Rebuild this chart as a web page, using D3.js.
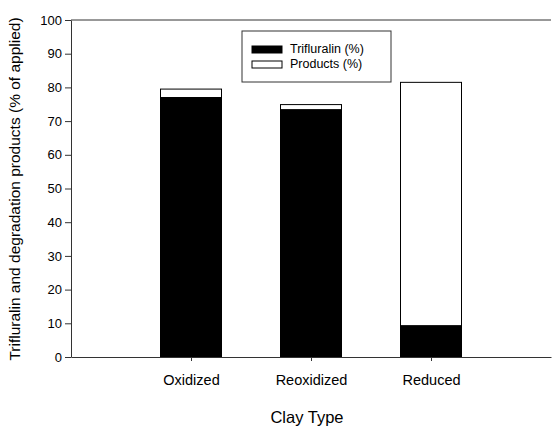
<!DOCTYPE html>
<html>
<head>
<script src="https://d3js.org/d3.v7.min.js"></script>
<style>
  body { margin: 0; background: #fff; }
  text { font-family: Arial, "Liberation Sans", sans-serif; }
</style>
</head>
<body>
<svg width="552" height="429"></svg>
<script>
// data
var clayTypes = ["Oxidized", "Reoxidized", "Reduced"];
var trifluralin = [77, 73.4, 9.3];
var products = [2.5, 1.5, 72.2];
var yTicks = [0, 10, 20, 30, 40, 50, 60, 70, 80, 90, 100];

var svg = d3.select("svg");
var plotLeft = 71, plotRight = 551, plotTop = 20, plotBottom = 357;

var x = d3.scaleLinear().domain([0, 4]).range([plotLeft, plotRight]);
var y = d3.scaleLinear().domain([0, 100]).range([plotBottom, plotTop]);
var barW = 61;

// bars
var g = svg.append("g");
clayTypes.forEach(function(c, i) {
  var cx = x(i + 1);
  g.append("rect")
    .attr("x", cx - barW / 2).attr("width", barW)
    .attr("y", y(trifluralin[i])).attr("height", y(0) - y(trifluralin[i]))
    .attr("fill", "#000").attr("stroke", "#000").attr("stroke-width", 1);
  g.append("rect")
    .attr("x", cx - barW / 2).attr("width", barW)
    .attr("y", y(trifluralin[i] + products[i]))
    .attr("height", y(trifluralin[i]) - y(trifluralin[i] + products[i]))
    .attr("fill", "#fff").attr("stroke", "#000").attr("stroke-width", 1);
});

// y axis
var yAxis = svg.append("g")
  .attr("transform", "translate(" + plotLeft + ",0)")
  .call(d3.axisLeft(y).tickValues(yTicks).tickSize(6).tickPadding(3).tickSizeOuter(0));
yAxis.selectAll("text").style("font-size", "13px").attr("fill", "#000");
yAxis.selectAll("line, path").attr("stroke", "#333");

// x axis
var xAxis = svg.append("g")
  .attr("transform", "translate(0," + plotBottom + ")")
  .call(d3.axisBottom(x).tickValues([1, 2, 3])
    .tickFormat(function(d) { return clayTypes[d - 1]; })
    .tickSize(4).tickPadding(14).tickSizeOuter(0));
xAxis.selectAll("text").style("font-size", "14.5px").attr("fill", "#000");
xAxis.selectAll("line, path").attr("stroke", "#333");

// top border
svg.append("line")
  .attr("x1", plotLeft).attr("x2", plotRight).attr("y1", plotTop).attr("y2", plotTop)
  .attr("stroke", "#333");

// axis titles
svg.append("text")
  .attr("transform", "translate(20,189) rotate(-90)")
  .attr("text-anchor", "middle")
  .style("font-size", "15.5px")
  .text("Trifluralin and degradation products (% of applied)");
svg.append("text")
  .attr("x", 307).attr("y", 423)
  .attr("text-anchor", "middle")
  .style("font-size", "16.5px")
  .text("Clay Type");

// legend
var lg = svg.append("g").attr("transform", "translate(242,31)");
lg.append("rect").attr("width", 149).attr("height", 51)
  .attr("fill", "#fff").attr("stroke", "#333");
var legendItems = [["Trifluralin (%)", "#000"], ["Products (%)", "#fff"]];
legendItems.forEach(function(d, i) {
  lg.append("rect").attr("x", 10).attr("y", 15 + i * 15).attr("width", 30).attr("height", 7)
    .attr("fill", d[1]).attr("stroke", "#000");
  lg.append("text").attr("x", 48).attr("y", 22 + i * 15)
    .style("font-size", "12.5px").text(d[0]);
});
</script>
</body>
</html>
